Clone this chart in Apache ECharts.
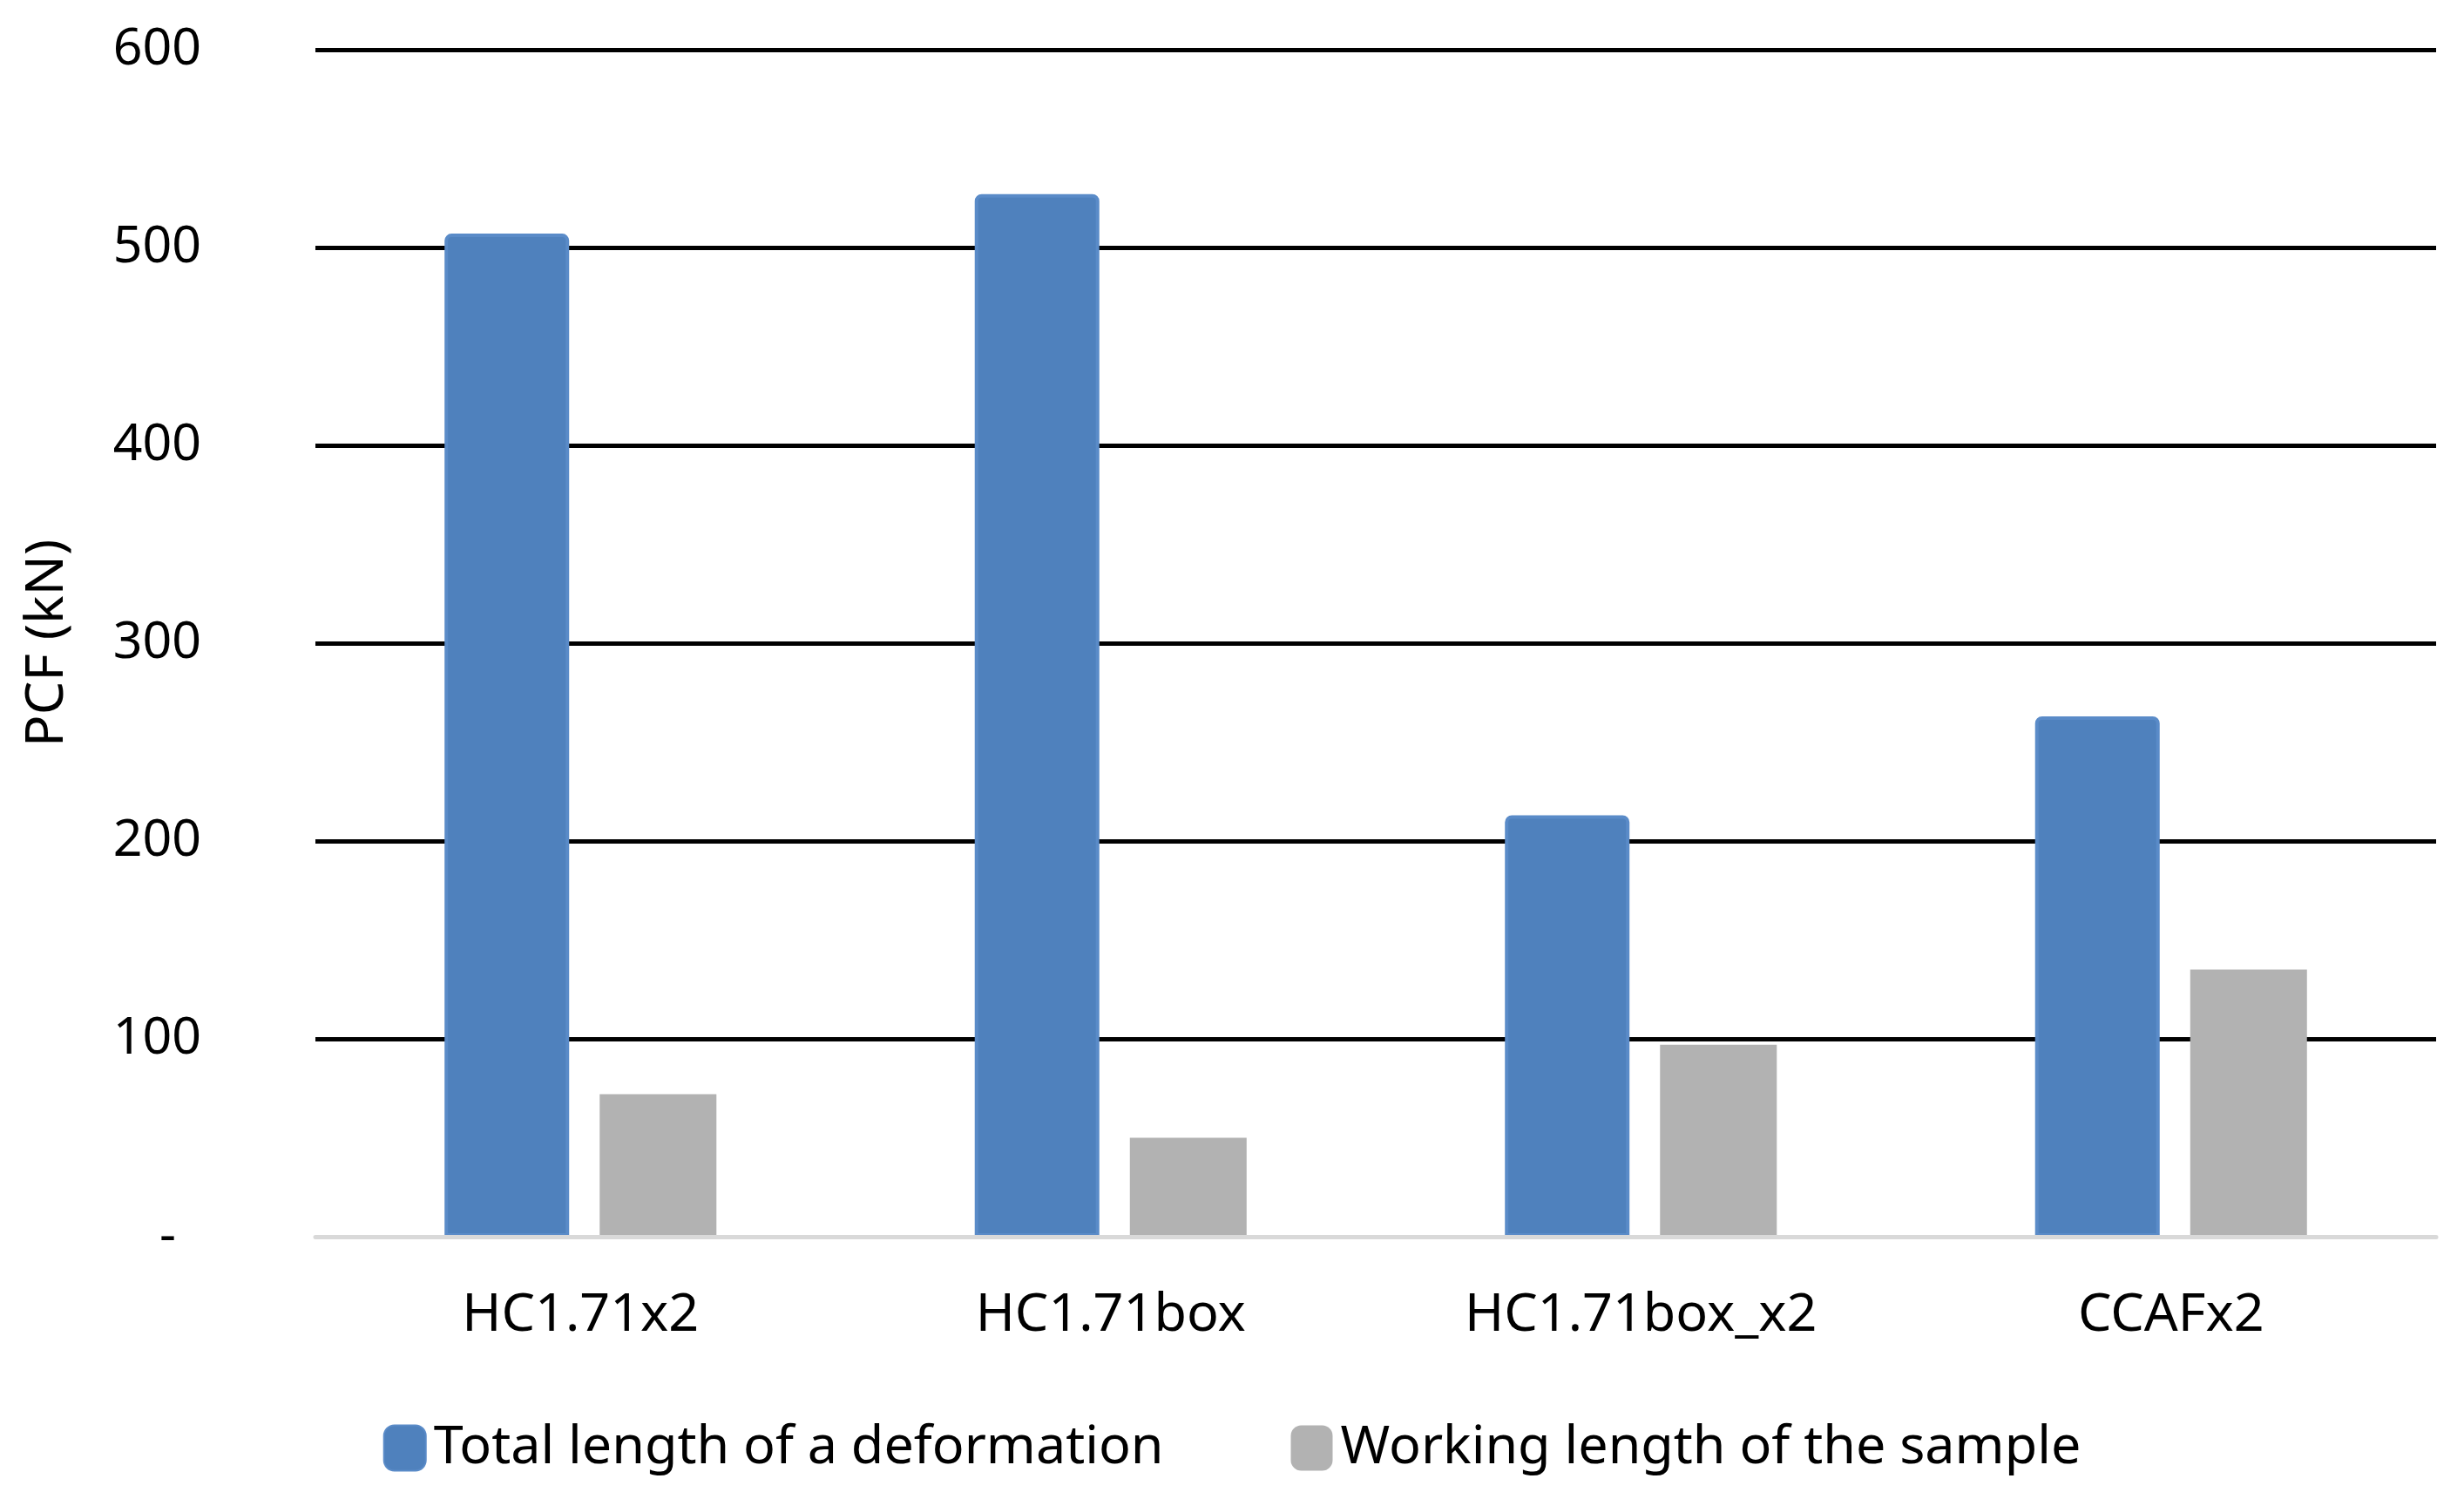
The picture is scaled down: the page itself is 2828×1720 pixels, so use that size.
<!DOCTYPE html>
<html>
<head>
<meta charset="utf-8">
<script src="https://cdn.jsdelivr.net/npm/echarts@6/dist/echarts.min.js"></script>
<style>
html,body{margin:0;padding:0;background:#fff;}
#chart{width:2828px;height:1720px;}
</style>
</head>
<body>
<div id="chart"></div>
<script>
const categories = ['HC1.71x2', 'HC1.71box', 'HC1.71box_x2', 'CCAFx2'];
const totalLength = [507, 527, 213, 263];
const workingLength = [72, 50, 97, 135];
const seriesNames = ['Total length of a deformation', 'Working length of the sample'];
const yAxisName = 'PCF (kN)';

const FONT = '"Noto Sans", "Open Sans", sans-serif';
const chart = echarts.init(document.getElementById('chart'));
chart.setOption({
  animation: false,
  backgroundColor: '#ffffff',
  textStyle: { fontFamily: FONT, color: '#000' },
  grid: { left: 362, right: 32, top: 57, bottom: 301 },
  legend: {
    data: seriesNames,
    left: 'center',
    top: 1626,
    itemWidth: 48,
    itemHeight: 52,
    itemGap: 146,
    textStyle: { fontSize: 61, fontFamily: FONT, color: '#000', padding: [0, 0, 0, 4] }
  },
  xAxis: {
    type: 'category',
    data: categories,
    z: 5,
    axisLine: { show: true, lineStyle: { color: '#D9D9D9', width: 5 } },
    axisTick: { show: false },
    axisLabel: { fontSize: 61, color: '#000', margin: 60, fontFamily: FONT }
  },
  yAxis: {
    type: 'value',
    min: 0,
    max: 600,
    interval: 100,
    name: yAxisName,
    nameLocation: 'middle',
    nameGap: 277,
    nameRotate: 90,
    nameTextStyle: { fontSize: 61, color: '#000', fontFamily: FONT },
    axisLine: { show: false },
    axisTick: { show: false },
    splitLine: { lineStyle: { color: '#000', width: 5 } },
    axisLabel: {
      fontSize: 59,
      color: '#000',
      margin: 131,
      fontFamily: FONT,
      formatter: v => v === 0 ? '{z|-}' : String(v),
      rich: { z: { fontSize: 59, color: '#000', padding: [0, 29, 0, 0] } }
    }
  },
  series: [
    {
      name: seriesNames[0],
      type: 'bar',
      data: totalLength,
      barWidth: 143,
      barGap: '24.5%',
      itemStyle: { color: '#4F81BD', borderColor: '#5A8BC8', borderWidth: 4, borderRadius: [6, 6, 0, 0] }
    },
    {
      name: seriesNames[1],
      type: 'bar',
      data: workingLength,
      barWidth: 134,
      itemStyle: { color: '#B2B2B2' }
    }
  ]
});
</script>
</body>
</html>
